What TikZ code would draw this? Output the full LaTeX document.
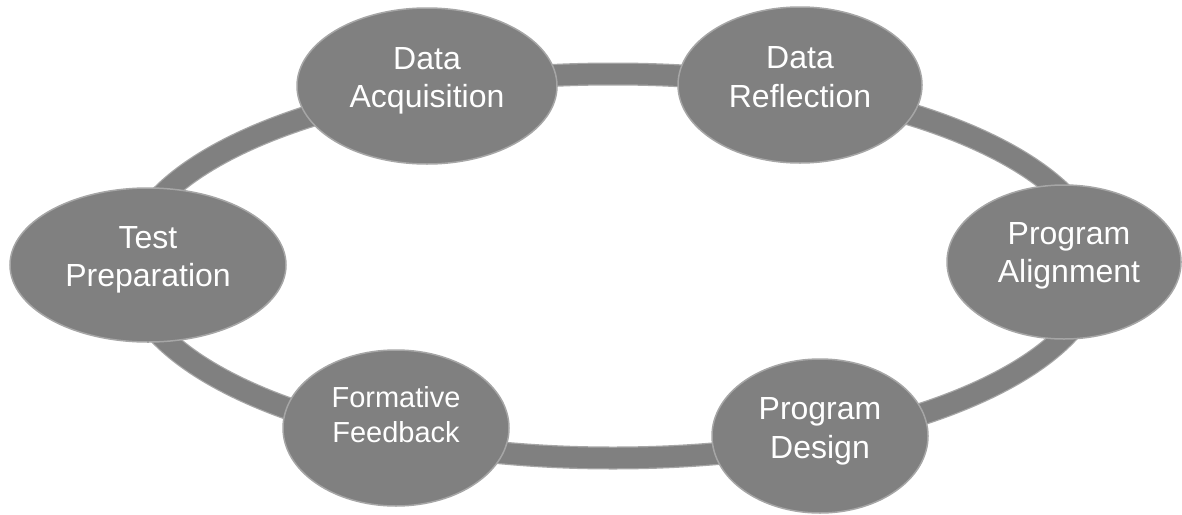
\documentclass[tikz,border=0pt]{standalone}
\usepackage{fontspec}
\setmainfont{Liberation Sans}
\usetikzlibrary{shapes.geometric}
\definecolor{fillgray}{RGB}{128,128,128}
\definecolor{edgegray}{RGB}{166,166,166}
\begin{document}
\begin{tikzpicture}[x=1pt,y=-1pt,
  bubble/.style={ellipse, fill=fillgray, draw=edgegray, line width=1.5pt, inner sep=0pt},
  lbl/.style={text=white, align=center, font=\fontsize{32}{38.4}\selectfont, inner sep=0pt},
  lblsmall/.style={lbl, font=\fontsize{29}{35}\selectfont}]
\useasboundingbox (0,0) rectangle (1182,514);
% ring
\draw[edgegray, line width=23pt] (613,266) ellipse [x radius=485, y radius=192];
\draw[fillgray, line width=20.5pt] (613,266) ellipse [x radius=485, y radius=192];
% bubbles
\node[bubble, minimum width=260pt, minimum height=156pt] (acq) at (427,86) {};
\node[bubble, minimum width=244pt, minimum height=156pt] (refl) at (800,85) {};
\node[bubble, minimum width=234pt, minimum height=154pt] (align) at (1064,262) {};
\node[bubble, minimum width=216pt, minimum height=154pt] (design) at (820,436) {};
\node[bubble, minimum width=226pt, minimum height=156pt] (feed) at (396,428) {};
\node[bubble, minimum width=276pt, minimum height=154pt] (test) at (148,265) {};
% labels
\node[lbl] (acqt) at (427,81) {Data\\Acquisition};
\node[lbl] (reflt) at (800,77) {Data\\Reflection};
\node[lbl] (alignt) at (1069,256) {Program\\Alignment};
\node[lbl] (designt) at (820,431.5) {Program\\Design};
\node[lblsmall] (feedt) at (396,414.5) {Formative\\Feedback};
\node[lbl] (testt) at (148,260) {Test\\Preparation};
\end{tikzpicture}
\end{document}
